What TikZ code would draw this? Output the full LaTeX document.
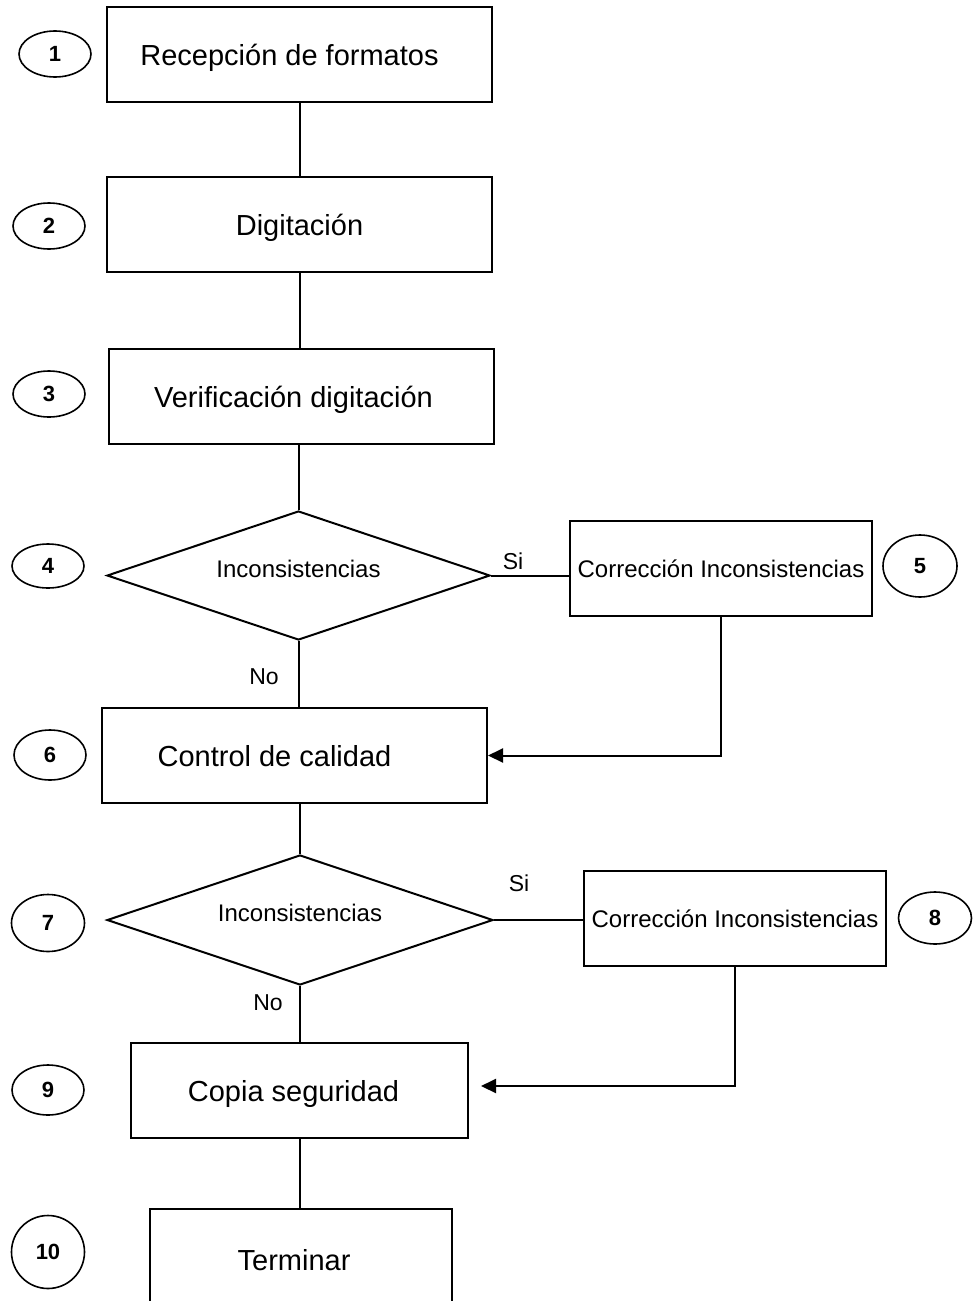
\documentclass[tikz,border=0pt]{standalone}
\usepackage{fontspec}
\setmainfont{Liberation Sans}
\usetikzlibrary{shapes.geometric,arrows.meta}
\tikzset{
  x=1pt,y=-1pt,
  box/.style={draw,line width=2pt,minimum height=95pt,inner sep=0pt,text depth=0pt,font=\fontsize{29}{34}\selectfont},
  smallbox/.style={draw,line width=2pt,minimum width=302pt,minimum height=95pt,inner sep=0pt,text depth=0pt,font=\fontsize{24}{28}\selectfont},
  decision/.style={draw,diamond,aspect=2.97,line width=2pt,inner sep=0pt,font=\fontsize{24}{28}\selectfont},
  num/.style={draw,ellipse,line width=1.6pt,minimum width=72pt,minimum height=46pt,inner sep=0pt,font=\fontsize{22}{26}\selectfont\bfseries},
  conn/.style={line width=2pt},
  arr/.style={line width=2pt,-{Triangle[length=15pt,width=14pt]}},
  lab/.style={font=\fontsize{23}{27}\selectfont,inner sep=0pt}
}
\begin{document}
\begin{tikzpicture}
\useasboundingbox (0,0) rectangle (972,1301);
% process boxes
\node[box,minimum width=385pt] (b1) at (299.5,54.5) {\hspace*{-20pt}Recepción de formatos};
\node[box,minimum width=385pt] (b2) at (299.5,224.5) {Digitación};
\node[box,minimum width=385pt] (b3) at (301.5,396.5) {\hspace*{-16pt}Verificación digitación};
\node[decision,minimum width=383pt,minimum height=129pt] (d4) at (298.5,575.5) {\raisebox{-2pt}[0pt][0pt]{Inconsistencias}};
\node[smallbox] (b5) at (721,568.5) {Corrección Inconsistencias};
\node[box,minimum width=385pt] (b6) at (294.5,755.5) {\hspace*{-40pt}Control de calidad};
\node[decision,minimum width=386pt,minimum height=130pt] (d7) at (300,920) {\raisebox{-1pt}[0pt][0pt]{Inconsistencias}};
\node[smallbox] (b8) at (735,918.5) {Corrección Inconsistencias};
\node[box,minimum width=337pt] (b9) at (299.5,1090.5) {\hspace*{-12pt}Copia seguridad};
\node[box,minimum width=302pt,minimum height=102pt] (b10) at (301,1260) {\hspace*{-14pt}Terminar};
% number ellipses
\node[num] (n1) at (55,54) {1};
\node[num] (n2) at (49,226) {2};
\node[num] (n3) at (49,394) {3};
\node[num,minimum height=44pt] (n4) at (48,566) {4};
\node[num,minimum width=74pt,minimum height=62pt] (n5) at (920,566) {5};
\node[num,minimum height=50pt] (n6) at (50,755) {6};
\node[num,minimum width=73pt,minimum height=57pt] (n7) at (48,923) {7};
\node[num,minimum width=73pt,minimum height=52pt] (n8) at (935,918) {8};
\node[num,minimum height=50pt] (n9) at (48,1090) {9};
\node[num,minimum width=73pt,minimum height=73pt] (n10) at (48,1252) {10};
% connectors
\draw[conn] (b1.south) -- (b2.north);
\draw[conn] (b2.south) -- (b3.north -| b2.south);
\draw[conn] (b3.south -| d4.north) -- (d4.north);
\draw[conn] (d4.east) -- (d4.east -| b5.west);
\draw[conn] (d4.south) -- (d4.south |- b6.north);
\draw[arr] (b5.south) |- (b6.east);
\draw[conn] (b6.south -| d7.north) -- (d7.north);
\draw[conn] (d7.east) -- (d7.east -| b8.west);
\draw[conn] (d7.south) -- (b9.north -| d7.south);
\draw[arr,shorten >=12pt] (b8.south) |- ([yshift=4.5pt]b9.east);
\draw[conn] (b9.south -| d7.south) -- (b10.north -| d7.south);
% labels
\node[lab] (si1) at (513,561) {Si};
\node[lab] (si2) at (519,883) {Si};
\node[lab] (no1) at (264,677) {No};
\node[lab] (no2) at (268,1003) {No};
\end{tikzpicture}
\end{document}
